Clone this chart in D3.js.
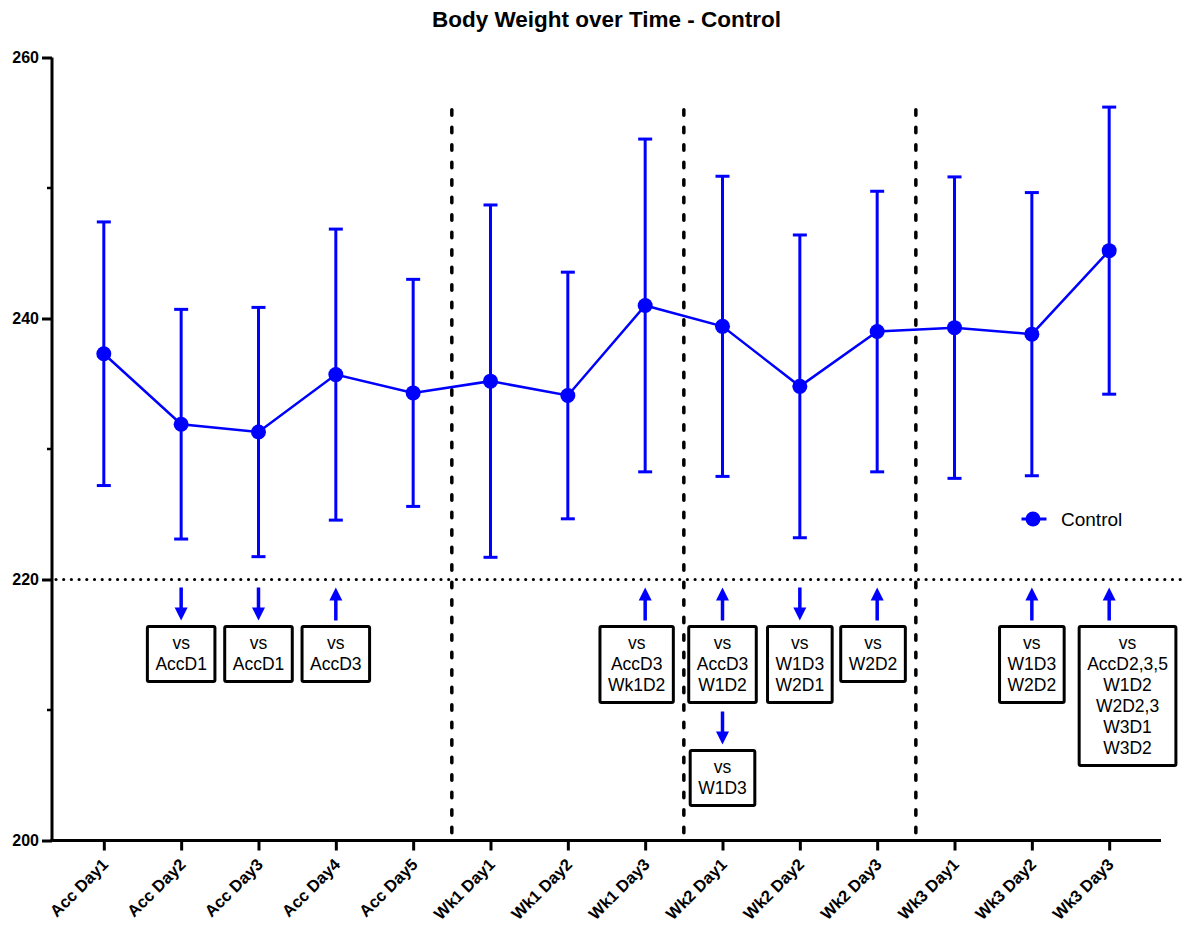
<!DOCTYPE html>
<html>
<head>
<meta charset="utf-8">
<script src="https://cdn.jsdelivr.net/npm/d3@7"></script>
<style>
  html, body { margin: 0; padding: 0; background: #fff; }
  svg { display: block; font-family: "Liberation Sans", Arial, sans-serif; }
</style>
</head>
<body>
<svg id="chart" width="1186" height="925"></svg>
<script>
// Body weight (g) per session, mean ± SD
const categories = ["Acc Day1","Acc Day2","Acc Day3","Acc Day4","Acc Day5",
  "Wk1 Day1","Wk1 Day2","Wk1 Day3","Wk2 Day1","Wk2 Day2","Wk2 Day3",
  "Wk3 Day1","Wk3 Day2","Wk3 Day3"];
const means = [237.3, 231.9, 231.3, 235.7, 234.3, 235.2, 234.1, 241.0, 239.4, 234.8, 239.0, 239.3, 238.8, 245.2];
const sds   = [10.1, 8.8, 9.55, 11.15, 8.7, 13.5, 9.45, 12.75, 11.5, 11.6, 10.75, 11.55, 10.85, 11.0];
const yTicks = [200, 220, 240, 260];
const yMinorTicks = [210, 230, 250];
const seriesName = "Control";
const title = "Body Weight over Time - Control";
// phase boundaries: a dashed line after each of these sessions
const phaseEnds = ["Acc Day5", "Wk1 Day3", "Wk2 Day3"];
const phaseLineTop = 256;
const referenceLevel = 220;
// significance notes: arrow direction and comparison list per session
const noteCats  = ["Acc Day2","Acc Day3","Acc Day4","Wk1 Day3","Wk2 Day1","Wk2 Day1","Wk2 Day2","Wk2 Day3","Wk3 Day2","Wk3 Day3"];
const noteDirs  = ["down","down","up","up","up","down","down","up","up","up"];
const noteLines = [
  ["vs","AccD1"],
  ["vs","AccD1"],
  ["vs","AccD3"],
  ["vs","AccD3","Wk1D2"],
  ["vs","AccD3","W1D2"],
  ["vs","W1D3"],
  ["vs","W1D3","W2D1"],
  ["vs","W2D2"],
  ["vs","W1D3","W2D2"],
  ["vs","AccD2,3,5","W1D2","W2D2,3","W3D1","W3D2"]
];

const blue = "#0000ff";
const svg = d3.select("#chart");
const W = 1186;
const plotL = 52, plotR = 1161, plotT = 57.5, plotB = 840.5;

const x = d3.scalePoint().domain(categories).range([plotL, plotR]).padding(0.67);
const y = d3.scaleLinear().domain([200, 260]).range([plotB, plotT]);

// title
svg.append("text")
  .attr("x", 606.5).attr("y", 27)
  .attr("text-anchor", "middle")
  .attr("font-weight", "bold").attr("font-size", 22.5)
  .attr("fill", "#000")
  .text(title);

// reference dotted line at 220
svg.append("line")
  .attr("x1", plotL + 4).attr("x2", W)
  .attr("y1", y(referenceLevel)).attr("y2", y(referenceLevel))
  .attr("stroke", "#000").attr("stroke-width", 3.2)
  .attr("stroke-linecap", "round")
  .attr("stroke-dasharray", "0 7.7");

// phase separators
const step = x.step();
const sepX = phaseEnds.map(c => x(c) + step / 2);
svg.selectAll(".sep").data(sepX).join("line")
  .attr("class", "sep")
  .attr("x1", d => d).attr("x2", d => d)
  .attr("y1", y(phaseLineTop)).attr("y2", plotB - 4)
  .attr("stroke", "#000").attr("stroke-width", 3.5)
  .attr("stroke-linecap", "round")
  .attr("stroke-dasharray", "5.5 12");

// axes
const yAxis = d3.axisLeft(y).tickValues(yTicks).tickSize(10).tickSizeOuter(0).tickPadding(3);
const gy = svg.append("g").attr("transform", `translate(${plotL},0)`).call(yAxis);
gy.select(".domain").attr("stroke-width", 3).attr("d", `M0,${plotT}V${plotB}`);
gy.selectAll(".tick line").attr("stroke-width", 3);
gy.selectAll(".tick text").attr("font-size", 16).attr("font-weight", "bold").attr("fill", "#000")
  .attr("font-family", "'Liberation Sans', Arial, sans-serif");
svg.append("g").selectAll("line").data(yMinorTicks).join("line")
  .attr("x1", plotL - 5).attr("x2", plotL)
  .attr("y1", d => y(d)).attr("y2", d => y(d))
  .attr("stroke", "#000").attr("stroke-width", 2.5);

const xAxis = d3.axisBottom(x).tickSize(10).tickSizeOuter(0);
const gx = svg.append("g").attr("transform", `translate(0,${plotB})`).call(xAxis);
gx.select(".domain").attr("stroke-width", 3).attr("d", `M${plotL - 1.5},0H${plotR}`);
gx.selectAll(".tick line").attr("stroke-width", 3);
gx.selectAll(".tick text")
  .attr("font-size", 16.5).attr("font-weight", "bold").attr("fill", "#000")
  .attr("font-family", "'Liberation Sans', Arial, sans-serif")
  .attr("text-anchor", "end")
  .attr("dy", null)
  .attr("y", 0)
  .attr("transform", "translate(5,25) rotate(-45)");

// error bars
const eb = svg.append("g").attr("stroke", blue).attr("stroke-width", 3);
categories.forEach((c, i) => {
  const cx = x(c), hi = y(means[i] + sds[i]), lo = y(means[i] - sds[i]);
  eb.append("line").attr("x1", cx).attr("x2", cx).attr("y1", hi).attr("y2", lo);
  eb.append("line").attr("x1", cx - 7).attr("x2", cx + 7).attr("y1", hi).attr("y2", hi);
  eb.append("line").attr("x1", cx - 7).attr("x2", cx + 7).attr("y1", lo).attr("y2", lo);
});

// mean line and markers
const pts = categories.map((c, i) => [x(c), y(means[i])]);
svg.append("path")
  .attr("d", d3.line()(pts))
  .attr("fill", "none").attr("stroke", blue).attr("stroke-width", 2.5);
svg.append("g").selectAll("circle").data(pts).join("circle")
  .attr("cx", d => d[0]).attr("cy", d => d[1]).attr("r", 7.5).attr("fill", blue);

// legend
const lg = svg.append("g").attr("transform", "translate(1033,519)");
lg.append("line").attr("x1", -11.5).attr("x2", 13.5).attr("stroke", blue).attr("stroke-width", 3);
lg.append("circle").attr("r", 7.5).attr("fill", blue);
lg.append("text").attr("x", 28).attr("y", 7).attr("font-size", 19).attr("fill", "#000").text(seriesName);

// significance notes
const noteFont = 17.5, lineH = 21, arrowLen = 33, gapAfterArrow = 6;
const bounds = [plotL, ...sepX, W];
const regionOf = cx => { for (let k = 0; k < bounds.length - 1; k++) if (cx >= bounds[k] && cx < bounds[k + 1]) return k; return 0; };
const notesG = svg.append("g");
const measure = notesG.append("text").attr("font-size", noteFont);
const textW = s => { measure.text(s); return measure.node().getComputedTextLength(); };

const stackBottom = {};   // lowest used y per category
let prevRowRight = -Infinity;
const boxes = [];
noteCats.forEach((c, i) => {
  const cx = x(c);
  const stacked = stackBottom[c] !== undefined;
  const y0 = stacked ? stackBottom[c] + 9 : y(referenceLevel) + 8;
  const w = d3.max(noteLines[i], textW) + 16;
  const h = noteLines[i].length * lineH + 13;
  const bt = y0 + arrowLen + gapAfterArrow;
  let bx = cx - w / 2;
  // keep the box inside its phase
  const r = regionOf(cx);
  const lim = bounds[r + 1] - 9 - 1.5;
  if (r + 1 < bounds.length - 1 && bx + w > lim) bx = lim - w;
  // move a crowding box clear of its left neighbour in the top row
  if (!stacked && bx < prevRowRight + 6) bx = prevRowRight + 15;
  if (!stacked) prevRowRight = bx + w;
  stackBottom[c] = bt + h;
  boxes.push({ cx, y0, bx, bt, w, h, dir: noteDirs[i], lines: noteLines[i] });
});
measure.remove();

boxes.forEach(b => {
  const tip = b.dir === "up" ? b.y0 : b.y0 + arrowLen;
  const tail = b.dir === "up" ? b.y0 + arrowLen : b.y0;
  const headLen = 13, headHalf = 6.5;
  const sgn = b.dir === "up" ? 1 : -1;
  notesG.append("line")
    .attr("x1", b.cx).attr("x2", b.cx)
    .attr("y1", tail).attr("y2", tip + sgn * (headLen - 1))
    .attr("stroke", blue).attr("stroke-width", 3.5);
  notesG.append("path")
    .attr("d", `M${b.cx},${tip}L${b.cx - headHalf},${tip + sgn * headLen}L${b.cx + headHalf},${tip + sgn * headLen}Z`)
    .attr("fill", blue);
  notesG.append("rect")
    .attr("x", b.bx).attr("y", b.bt).attr("width", b.w).attr("height", b.h)
    .attr("rx", 1.5)
    .attr("fill", "#fff").attr("stroke", "#000").attr("stroke-width", 3);
  b.lines.forEach((s, j) => {
    notesG.append("text")
      .attr("x", b.bx + b.w / 2).attr("y", b.bt + 22.5 + j * lineH)
      .attr("text-anchor", "middle").attr("font-size", noteFont).attr("fill", "#000")
      .text(s);
  });
});
</script>
</body>
</html>
